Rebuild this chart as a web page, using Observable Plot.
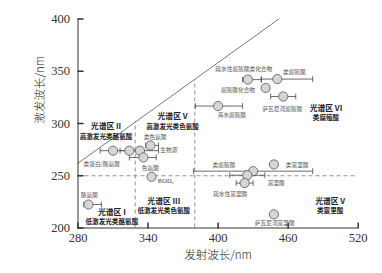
<!DOCTYPE html>
<html><head><meta charset="utf-8">
<script src="https://cdn.jsdelivr.net/npm/d3@7"></script>
<script src="https://cdn.jsdelivr.net/npm/@observablehq/plot@0.6"></script>
<style>html,body{margin:0;padding:0;background:#fff;}</style>
</head><body><div id="chart"></div>
<script>
// Axis ticks
const xTicks = [280, 340, 400, 460, 520];
const yTicks = [200, 250, 300, 350, 400];

// Data points: emission (x), excitation (y), emission error range
const pointEm = [310, 324, 333, 342, 336, 343, 289, 425.5, 450.7, 440.7, 455.8, 400, 447.8, 430, 425, 422.7, 447.8];
const pointEx = [274, 274, 274, 279, 267.5, 249, 222.5, 342, 342.5, 334, 325.8, 316.7, 260.8, 254.4, 250.5, 243, 213];
const errLo   = [299, 316, 326, 338, 324, null, 285, 421, 437, null, 445, 380.5, null, 379, 410, 415.5, null];
const errHi   = [321, 332, 349, 349, 347, null, 300, 437, 481, null, 466.5, 421, null, 481, 440, 430, null];

// Point labels and their anchor positions (nm)
const labelText = ["类色氨酸", "生物源", "类蛋白/酪氨酸", "色氨酸", "酪氨酸", "疏水性腐殖酸类化合物", "类腐殖酸", "腐殖酸化合物", "萨瓦尼河腐殖酸", "海水腐殖酸", "类富里酸", "类腐殖酸", "富里酸", "疏水性富里酸", "萨瓦尼河富里酸"];
const labelEm   = [346, 357.8, 300.3, 342, 289.7, 422, 465.3, 417, 455, 411.7, 467.7, 404.9, 449.8, 410.4, 448.5];
const labelEx   = [287, 274.8, 261.4, 257.2, 231, 352.3, 349, 332.2, 314, 307.7, 259.8, 259.8, 242.9, 232.7, 204.6];
const bodText = ["BOD₅"];
const bodEm = [348.4];
const bodEx = [244.8];

// Region labels
const regionTitle = ["光谱区 II", "光谱区 V", "光谱区 VI", "光谱区 I", "光谱区 III", "光谱区 V"];
const regionSub   = ["高激发光类酪氨酸", "高激发光类色氨酸", "类腐殖酸", "低激发光类酪氨酸", "低激发光类色氨酸", "类富里酸"];
const regionEm    = [304, 361, 492.4, 309, 353.5, 496];
const regionTitleEx = [297.6, 307, 314.6, 214.4, 225.6, 225.6];
const regionSubEx   = [286.9, 297.1, 305.5, 205.6, 216, 216];

// Boundaries
const diagEm = [280, 452];
const diagEx = [262, 400];
const splitY = [250];
const splitX = [329, 380];
const splitXTop = [302, 342];

const pts = pointEm.map((x, i) => ({x, y: pointEx[i], lo: errLo[i], hi: errHi[i]}));
const bars = pts.filter(d => d.lo != null);
const caps = bars.flatMap(d => [{x: d.lo, y: d.y}, {x: d.hi, y: d.y}]);
const labels = labelText.map((t, i) => ({t, x: labelEm[i], y: labelEx[i]}));
const regions = regionTitle.map((t, i) => ({t, s: regionSub[i], x: regionEm[i], y1: regionTitleEx[i], y2: regionSubEx[i]}));
const vlines = splitX.map((x, i) => ({x, top: splitXTop[i]}));

const lineShape = {draw(c, l) { c.moveTo(0, 0); c.lineTo(0, -l); }};
const cjk = "'Noto Sans CJK SC', sans-serif";

const chart = Plot.plot({
  width: 382,
  height: 273,
  marginLeft: 77.5,
  marginRight: 24.3,
  marginTop: 18.5,
  marginBottom: 45.5,
  style: {fontFamily: "'Liberation Serif', serif", background: "#fff", color: "#333"},
  x: {domain: [280, 520]},
  y: {domain: [200, 400]},
  marks: [
    // boundaries
    Plot.line(diagEm.map((x, i) => ({x, y: diagEx[i]})), {x: "x", y: "y", stroke: "#555", strokeWidth: 0.8}),
    Plot.ruleY(splitY, {x1: 280, x2: 520, stroke: "#777", strokeWidth: 0.8, strokeDasharray: "4,3"}),
    Plot.ruleX(vlines, {x: "x", y1: 200, y2: "top", stroke: "#777", strokeWidth: 0.8, strokeDasharray: "4,3"}),
    // error bars
    Plot.link(bars, {x1: "lo", x2: "hi", y1: "y", y2: "y", stroke: "#444", strokeWidth: 0.8}),
    Plot.vector(caps, {x: "x", y: "y", length: 5, rotate: 0, anchor: "middle", shape: lineShape, stroke: "#444", strokeWidth: 0.8}),
    // points
    Plot.dot(pts, {x: "x", y: "y", r: 4.6, fill: "#d6d6d6", stroke: "#555", strokeWidth: 0.8}),
    // point labels
    Plot.text(labels, {x: "x", y: "y", text: "t", fontSize: 5.7, fill: "#555", fontFamily: cjk}),
    Plot.text(bodText.map((t, i) => ({t, x: bodEm[i], y: bodEx[i]})), {x: "x", y: "y", text: "t", fontSize: 6.5, fill: "#444", textAnchor: "start"}),
    // region labels
    Plot.text(regions, {x: "x", y: "y1", text: "t", fontSize: 7.8, fontWeight: "bold", fill: "#222", fontFamily: cjk}),
    Plot.text(regions, {x: "x", y: "y2", text: "s", fontSize: 6.6, fontWeight: "bold", fill: "#222", fontFamily: cjk}),
    // axes
    Plot.ruleX([280], {stroke: "#333", strokeWidth: 1}),
    Plot.ruleY([200], {stroke: "#333", strokeWidth: 1}),
    Plot.vector(xTicks, {x: d => d, frameAnchor: "bottom", length: 5, rotate: 0, anchor: "start", shape: lineShape, stroke: "#333"}),
    Plot.vector(yTicks, {y: d => d, frameAnchor: "left", length: 5, rotate: 90, anchor: "start", shape: lineShape, stroke: "#333"}),
    Plot.axisX({ticks: xTicks, tickSize: 0, tickPadding: 5, fontSize: 12.5, label: null, tickFormat: d => d}),
    Plot.axisY({ticks: yTicks, tickSize: 0, tickPadding: 8, fontSize: 12.5, label: null, tickFormat: d => d}),
    Plot.text(["发射波长/nm"], {frameAnchor: "bottom", dy: 30.5, fontSize: 11.5, fontWeight: 300, fill: "#222", fontFamily: cjk}),
    Plot.text(["激发波长/nm"], {frameAnchor: "left", dx: -38, rotate: -90, fontSize: 11.5, fontWeight: 300, fill: "#222", fontFamily: cjk})
  ]
});
document.getElementById("chart").appendChild(chart);
</script>
</body></html>
